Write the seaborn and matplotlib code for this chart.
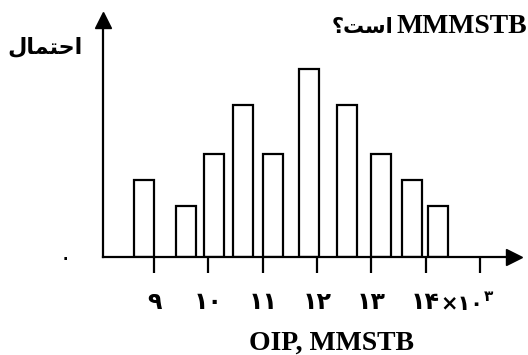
import numpy as np
import pandas as pd
import matplotlib
matplotlib.use("Agg")
import matplotlib.pyplot as plt
import seaborn as sns

# ---- data ----
oip_thousands = [8.81, 9.595, 10.10, 10.64, 11.19, 11.86, 12.55, 13.17, 13.75, 14.23]  # OIP ×10³ MMSTB
probability = [0.060, 0.040, 0.080, 0.118, 0.080, 0.146, 0.118, 0.080, 0.060, 0.040]
x_tick_values = [9, 10, 11, 12, 13, 14, 15]
x_tick_labels = ["۹", "۱۰", "۱۱", "۱۲", "۱۳", "۱۴", ""]
y_tick_values = [0]
y_tick_labels = ["۰"]
# Persian text written in visual (shaped, right-to-left) order with Arabic presentation forms
y_label = "\uFEDD\uFE8E\uFEE4\uFE98\uFEA3\uFE8D"            # احتمال
top_text_fa = "\u061F\uFE96\uFEB3\uFE8D"                     # است؟
top_text_en = "MMMSTB"
x_label = "OIP, MMSTB"
scale_text = "×۱۰"
scale_exp = "۳"

sns.set_theme(style="white")
plt.rcParams["font.family"] = ["DejaVu Sans"]

W, H = 528, 355
fig = plt.figure(figsize=(W / 100, H / 100), dpi=100)
ax = fig.add_axes([103 / W, 98 / H, 411 / W, 237 / H])

df = pd.DataFrame({"oip": oip_thousands, "p": probability})
bar_w = 0.37
sns.barplot(data=df, x="oip", y="p", native_scale=True,
            width=bar_w / np.min(np.diff(sorted(oip_thousands))),
            color="white", saturation=1, edgecolor="black", linewidth=1.6,
            errorbar=None, ax=ax)

ax.set_xlim(8.061, 15.626)
ax.set_ylim(0, 0.1842)

sns.despine(ax=ax)
for s in ["left", "bottom"]:
    ax.spines[s].set_linewidth(1.6)
    ax.spines[s].set_color("black")

# arrow heads at the axis ends
ax.plot(1, 0, ">", color="black", ms=11.5, transform=ax.transAxes, clip_on=False)
ax.plot(0, 1, "^", color="black", ms=11.5, transform=ax.transAxes, clip_on=False)

ax.set_xticks(x_tick_values, x_tick_labels)
ax.tick_params(axis="x", bottom=True, length=11.5, width=1.6, color="black",
               direction="out", pad=12, labelsize=17, labelcolor="black")
for t in ax.get_xticklabels():
    t.set_fontweight("bold")
ax.set_yticks(y_tick_values, y_tick_labels)
ax.tick_params(axis="y", left=False, length=0, pad=22, labelsize=18, labelcolor="black")

# "×۱۰³" written right after the "۱۴" tick label
lbl14 = ax.get_xticklabels()[x_tick_values.index(14)]
scale_artist = ax.annotate(scale_text, xy=(1.0, 0.0), xycoords=lbl14,
                           xytext=(0.5, 0), textcoords="offset points",
                           ha="left", va="bottom", fontsize=15, fontweight="bold",
                           color="black", annotation_clip=False)
ax.annotate(scale_exp, xy=(1.0, 0.85), xycoords=scale_artist,
            xytext=(0, 0), textcoords="offset points",
            ha="left", va="center", fontsize=11, fontweight="bold",
            color="black", annotation_clip=False)

ax.set_xlabel(x_label, fontfamily="Liberation Serif", fontweight="bold", fontsize=20, color="black")
ax.xaxis.set_label_coords(0.555, -0.393)
ax.xaxis.label.set_va("baseline")

ax.set_ylabel(y_label, rotation=0, fontsize=16, fontweight="bold", color="black")
ax.yaxis.set_label_coords(-0.141, 0.886)
ax.yaxis.label.set_ha("center")
ax.yaxis.label.set_va("center")

fig.text(527 / W, (H - 33) / H, top_text_en, family="Liberation Serif",
         weight="bold", fontsize=20, ha="right", va="baseline", color="black")
fig.text(393 / W, (H - 33) / H, top_text_fa, weight="bold", fontsize=15,
         ha="right", va="baseline", color="black")

fig.savefig("out.png", dpi=100)
